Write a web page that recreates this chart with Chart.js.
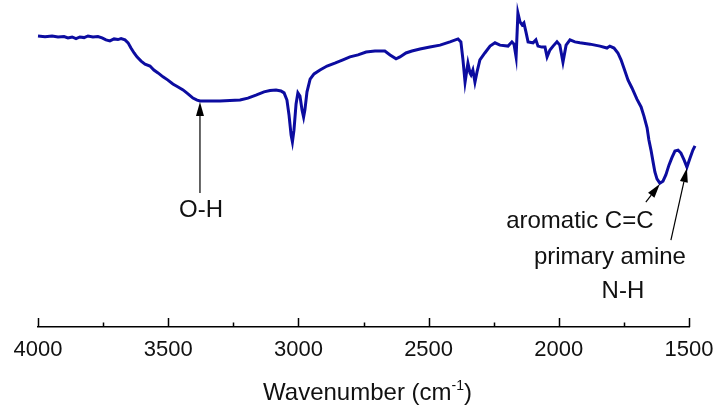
<!DOCTYPE html>
<html>
<head>
<meta charset="utf-8">
<title>FTIR spectrum</title>
<script src="https://cdn.jsdelivr.net/npm/chart.js@4.4.0/dist/chart.umd.min.js"></script>
<style>
    html, body { margin: 0; padding: 0; background: #fff; }
    #box { width: 717px; height: 409px; }
</style>
</head>
<body>
<div id="box"><canvas id="irChart"></canvas></div>
<script>
    // spectrum: wavenumber (cm-1) and transmittance (%)
    var wavenumbers = [
        4000, 3973, 3946, 3923, 3900, 3885, 3869, 3854, 3839, 3823, 3808, 3789, 3770, 3754, 3739, 3724,
        3708, 3693, 3681, 3666, 3654, 3643, 3631, 3620, 3604, 3589, 3570, 3555, 3539, 3520, 3501, 3482,
        3462, 3443, 3424, 3405, 3389, 3378, 3340, 3301, 3263, 3224, 3194, 3163, 3132, 3109, 3086, 3067,
        3055, 3044, 3036, 3028, 3023, 3017, 3009, 3002, 2994, 2986, 2980, 2975, 2967, 2955, 2940, 2917,
        2890, 2860, 2829, 2802, 2771, 2740, 2706, 2668, 2648, 2625, 2610, 2587, 2564, 2533, 2495, 2456,
        2418, 2387, 2376, 2368, 2360, 2353, 2349, 2341, 2337, 2330, 2322, 2314, 2303, 2284, 2264, 2245,
        2226, 2195, 2180, 2172, 2164, 2157, 2149, 2141, 2134, 2126, 2118, 2099, 2088, 2080, 2065, 2053,
        2045, 2034, 2022, 2007, 1996, 1984, 1972, 1957, 1938, 1919, 1880, 1842, 1815, 1804, 1788, 1773,
        1761, 1750, 1734, 1719, 1700, 1684, 1673, 1661, 1654, 1646, 1638, 1631, 1623, 1612, 1600, 1589,
        1577, 1566, 1554, 1542, 1531, 1519, 1508, 1496, 1485, 1477
    ];
    var transmittance = [
        89.0, 88.8, 89.0, 88.7, 88.8, 88.4, 88.7, 88.2, 88.7, 88.5, 89.0, 88.7, 88.8, 88.4, 87.8, 87.5,
        88.1, 87.9, 88.2, 87.8, 86.9, 85.3, 83.8, 82.6, 81.3, 80.4, 79.8, 78.6, 77.7, 76.5, 75.5, 74.3,
        73.4, 72.5, 71.3, 70.0, 69.4, 69.1, 69.1, 69.1, 69.3, 69.4, 70.0, 70.9, 71.9, 72.3, 72.5, 72.2,
        71.6, 69.4, 64.8, 58.7, 56.6, 60.2, 68.2, 71.6, 70.6, 66.4, 64.2, 66.4, 71.9, 75.8, 77.4, 78.6,
        79.8, 80.7, 81.7, 82.6, 83.2, 84.1, 84.4, 84.4, 83.2, 82.0, 82.6, 83.8, 84.4, 85.0, 85.6, 86.2,
        87.2, 88.1, 87.2, 81.7, 74.9, 78.6, 80.7, 77.7, 77.1, 78.6, 74.9, 78.0, 81.7, 83.8, 85.9, 86.9,
        86.2, 85.9, 87.2, 86.5, 82.6, 96.0, 93.3, 92.4, 93.0, 90.2, 87.2, 86.9, 87.8, 85.9, 85.6, 85.6,
        82.6, 84.7, 85.9, 87.2, 86.2, 81.0, 86.2, 87.8, 87.2, 86.9, 86.5, 85.9, 85.3, 85.9, 85.3, 83.8,
        81.7, 79.2, 75.5, 73.1, 69.7, 67.3, 64.5, 60.9, 57.2, 54.1, 50.5, 47.4, 45.3, 44.0, 44.6, 46.5,
        49.5, 51.7, 53.8, 54.1, 53.2, 51.1, 48.9, 51.7, 54.1, 55.4
    ];
    var xTicks = [4000, 3500, 3000, 2500, 2000, 1500];
    var xMinorTicks = [3750, 3250, 2750, 2250, 1750];

    // peak labels and where their arrows point
    var peakLabels = [['O-H'], ['aromatic C=C'], ['primary amine', 'N-H']];
    var peakWavenumbers = [3378, 1612, 1508];
    var peakValues = [69.1, 44.0, 48.9];

    // arrow tail and text placement, in pixels from the arrow tip
    var peakLayout = [
        { tail: [0, 91], text: [[1, 115]] },
        { tail: [-14, 18], text: [[-80, 44]] },
        { tail: [-16, 72], text: [[-77, 96], [-64, 130]] }
    ];

    var FONT = '"Liberation Sans", Arial, sans-serif';

    var spectrumPlugin = {
        id: 'spectrumExtras',
        afterDraw: function (chart) {
            var ctx = chart.ctx;
            var xs = chart.scales.x;
            var ys = chart.scales.y;
            var base = chart.chartArea.bottom;
            ctx.save();

            // inward ticks
            ctx.strokeStyle = '#000';
            ctx.lineWidth = 1.5;
            ctx.beginPath();
            xTicks.forEach(function (t) {
                var px = Math.round(xs.getPixelForValue(t)) + 0.5;
                ctx.moveTo(px, base);
                ctx.lineTo(px, base - 9);
            });
            xMinorTicks.forEach(function (t) {
                var px = Math.round(xs.getPixelForValue(t)) + 0.5;
                ctx.moveTo(px, base);
                ctx.lineTo(px, base - 4.5);
            });
            ctx.stroke();

            // axis title with superscript
            ctx.fillStyle = '#111';
            ctx.textBaseline = 'alphabetic';
            ctx.textAlign = 'left';
            var mainFont = '24px ' + FONT;
            var supFont = '14px ' + FONT;
            ctx.font = mainFont;
            var w1 = ctx.measureText('Wavenumber (cm').width;
            var w3 = ctx.measureText(')').width;
            ctx.font = supFont;
            var w2 = ctx.measureText('-1').width;
            var cx = (chart.chartArea.left + chart.chartArea.right) / 2 + 4;
            var sx = cx - (w1 + w2 + w3) / 2;
            var by = 400;
            ctx.font = mainFont;
            ctx.fillText('Wavenumber (cm', sx, by);
            ctx.font = supFont;
            ctx.fillText('-1', sx + w1, by - 10);
            ctx.font = mainFont;
            ctx.fillText(')', sx + w1 + w2, by);

            // peak arrows and labels
            ctx.font = '24px ' + FONT;
            ctx.textAlign = 'center';
            for (var i = 0; i < peakLabels.length; i++) {
                var tx = xs.getPixelForValue(peakWavenumbers[i]);
                var ty = ys.getPixelForValue(peakValues[i]) + 1;
                var lay = peakLayout[i];
                var ax = tx + lay.tail[0];
                var ay = ty + lay.tail[1];
                var ang = Math.atan2(ty - ay, tx - ax);
                var headLen = 14, headW = 4;
                var bx = tx - headLen * Math.cos(ang);
                var byy = ty - headLen * Math.sin(ang);
                ctx.strokeStyle = '#000';
                ctx.lineWidth = 1.2;
                ctx.beginPath();
                ctx.moveTo(ax, ay);
                ctx.lineTo(bx, byy);
                ctx.stroke();
                ctx.fillStyle = '#000';
                ctx.beginPath();
                ctx.moveTo(tx, ty);
                ctx.lineTo(bx + headW * Math.sin(ang), byy - headW * Math.cos(ang));
                ctx.lineTo(bx - headW * Math.sin(ang), byy + headW * Math.cos(ang));
                ctx.closePath();
                ctx.fill();
                ctx.fillStyle = '#111';
                for (var j = 0; j < peakLabels[i].length; j++) {
                    ctx.fillText(peakLabels[i][j], tx + lay.text[j][0], ty + lay.text[j][1]);
                }
            }
            ctx.restore();
        }
    };

    var irCtx = document.getElementById('irChart').getContext('2d');
    var irChart = new Chart(irCtx, {
        type: 'line',
        data: {
            datasets: [{
                data: wavenumbers.map(function (w, i) { return { x: w, y: transmittance[i] }; }),
                borderColor: '#0c0ca0',
                borderWidth: 3,
                pointRadius: 0,
                tension: 0,
                fill: false,
                clip: false
            }]
        },
        options: {
            responsive: true,
            maintainAspectRatio: false,
            animation: false,
            layout: { padding: { left: 38, right: 28, top: 0, bottom: 0 } },
            plugins: {
                legend: { display: false },
                tooltip: { enabled: false }
            },
            scales: {
                x: {
                    type: 'linear',
                    reverse: true,
                    min: 1500,
                    max: 4000,
                    afterBuildTicks: function (scale) {
                        scale.ticks = xTicks.map(function (v) { return { value: v }; });
                    },
                    afterFit: function (scale) {
                        scale.height = 82;
                        scale.paddingLeft = 0;
                        scale.paddingRight = 0;
                    },
                    grid: { display: false, drawTicks: false },
                    border: { display: true, color: '#000', width: 1.5 },
                    ticks: {
                        padding: 10,
                        maxRotation: 0,
                        color: '#111',
                        font: { family: FONT, size: 22 },
                        callback: function (v) { return String(v); }
                    }
                },
                y: {
                    display: false,
                    min: 0,
                    max: 100
                }
            }
        },
        plugins: [spectrumPlugin]
    });
</script>
</body>
</html>
